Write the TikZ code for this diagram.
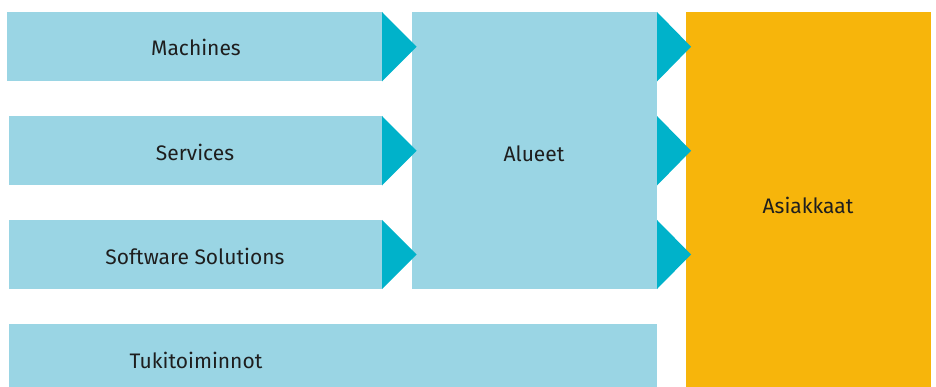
\documentclass[tikz,border=0pt]{standalone}
\usepackage{fontspec}
\setmainfont{Fira Sans}
\definecolor{lblue}{HTML}{9AD5E4}
\definecolor{tri}{HTML}{00B2CA}
\definecolor{orng}{HTML}{F7B50B}
\definecolor{txt}{HTML}{1E1E1E}
\begin{document}
\begin{tikzpicture}[x=1pt,y=-1pt,
  box/.style={fill=lblue,draw=none},
  lbl/.style={text=txt,font=\fontsize{21}{25}\selectfont,inner sep=0pt,anchor=center},
  arrowtri/.style={fill=tri,draw=none}]
\useasboundingbox (0,0) rectangle (936,387);
% boxes
\fill[box] (7,12) rectangle (382,81.5);
\fill[box] (9,116) rectangle (382,185.5);
\fill[box] (9,220) rectangle (382,289);
\fill[box] (412,12) rectangle (657,289);
\fill[box] (9,324) rectangle (657,387);
\fill[orng] (686,12) rectangle (931,387);
% triangles
\fill[arrowtri] (382,12) -- (416.5,46.75) -- (382,81.5) -- cycle;
\fill[arrowtri] (382,116) -- (416.5,150.75) -- (382,185.5) -- cycle;
\fill[arrowtri] (382,220) -- (416.5,254.5) -- (382,289) -- cycle;
\fill[arrowtri] (657,12) -- (691,46.75) -- (657,81.5) -- cycle;
\fill[arrowtri] (657,116) -- (691,150.75) -- (657,185.5) -- cycle;
\fill[arrowtri] (657,220) -- (691,254.5) -- (657,289) -- cycle;
% labels
\node[lbl] (m) at (196,47) {Machines};
\node[lbl] (s) at (195,152) {Services};
\node[lbl] (ss) at (195,256) {Software Solutions};
\node[lbl] (a) at (534,154) {Alueet};
\node[lbl] (as) at (808,205) {Asiakkaat};
\node[lbl] (t) at (196,360) {Tukitoiminnot};
\end{tikzpicture}
\end{document}
